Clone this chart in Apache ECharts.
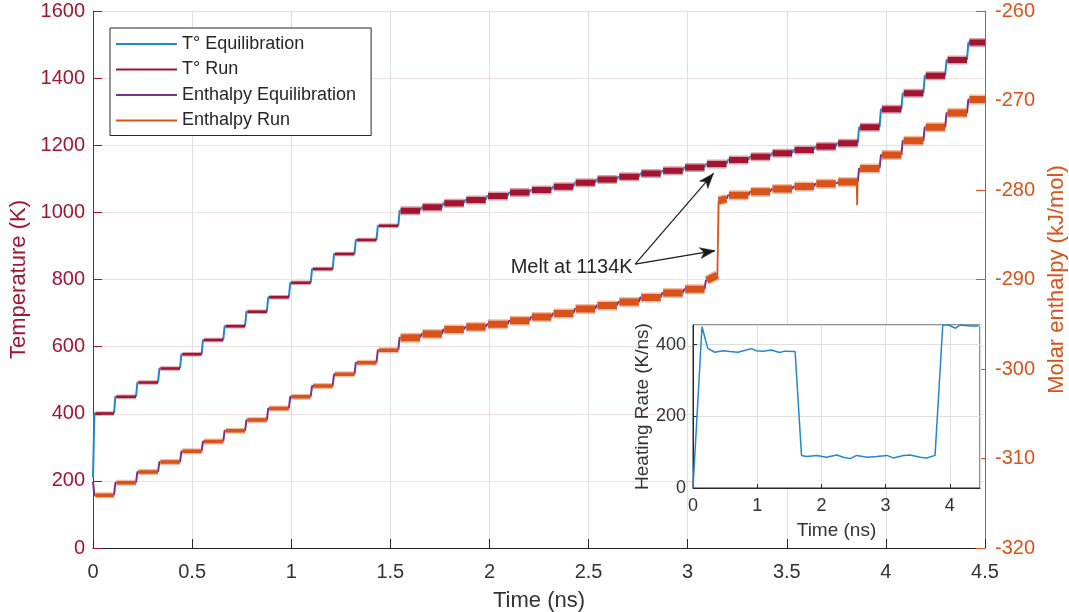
<!DOCTYPE html>
<html>
<head>
<meta charset="utf-8">
<script src="https://cdn.jsdelivr.net/npm/echarts@6/dist/echarts.min.js"></script>
<style>
  html, body { margin: 0; padding: 0; background: #ffffff; }
  #chart { width: 1069px; height: 612px; }
</style>
</head>
<body>
<div id="chart"></div>
<script>
// Start time (ns) of each heating step; the last plateau runs to simEnd
const stepStart = [0, 0.106, 0.217, 0.328, 0.439, 0.548, 0.657, 0.767, 0.877, 0.988,
  1.098, 1.209, 1.319, 1.430, 1.540, 1.650, 1.760, 1.871, 1.981, 2.092,
  2.202, 2.312, 2.423, 2.533, 2.643, 2.754, 2.864, 2.975, 3.085, 3.196,
  3.306, 3.416, 3.527, 3.637, 3.747, 3.858, 3.968, 4.078, 4.189, 4.299, 4.409];
const simEnd = 4.5;

// Plateau temperature (K) for each step
const tempLevel = [401, 451, 493, 535, 577, 620, 661, 704, 747, 790,
  831, 876, 918, 960, 1005, 1015, 1027, 1037, 1049, 1059,
  1067, 1076, 1088, 1098, 1106, 1116, 1124, 1134, 1144, 1156,
  1166, 1176, 1186, 1196, 1206, 1254, 1307, 1355, 1407, 1454, 1506];

// Plateau molar enthalpy (kJ/mol) for each step
const enthLevel = [-314.1, -312.7, -311.5, -310.4, -309.2, -308.1, -306.9, -305.7, -304.4, -303.1,
  -301.9, -300.6, -299.3, -297.9, -296.5, -296.1, -295.6, -295.3, -295.0, -294.6,
  -294.2, -293.8, -293.3, -292.9, -292.5, -292.0, -291.5, -291.1, -290.1, -280.6,
  -280.2, -279.9, -279.6, -279.3, -279.1, -277.6, -276.1, -274.5, -273.0, -271.4, -269.9];

// Values at t = 0, before the first equilibration
const tempInitial = 210;
const enthInitial = -312.6;

// Melting inside step 28: enthalpy jumps while the temperature keeps climbing
const meltStep = 28;
const meltBefore = [3.150, -289.5];
const meltAfter = [3.156, -281.2];
const meltLevelEnd = -281.0;
// Short enthalpy dip at the end of step 34
const dipStep = 34;
const dipPoint = [3.855, -281.7];

// Inset: heating rate (K/ns) against time (ns)
const rateTime = [0, 0.14, 0.23, 0.34, 0.47, 0.57, 0.70, 0.83, 0.91, 0.99,
  1.09, 1.22, 1.35, 1.43, 1.59, 1.69, 1.77, 1.93, 2.08, 2.24,
  2.34, 2.45, 2.55, 2.71, 2.86, 3.02, 3.12, 3.28, 3.38, 3.54,
  3.64, 3.77, 3.89, 3.98, 4.09, 4.16, 4.32, 4.45];
const rateValue = [0, 450, 390, 379, 383, 381, 379, 385, 389, 383,
  382, 385, 378, 382, 381, 91, 88, 91, 86, 92,
  86, 82, 91, 86, 88, 91, 84, 91, 92, 86,
  84, 91, 455, 455, 446, 455, 452, 452];

// Annotation anchor points, in (time, temperature) coordinates
const meltLabel = 'Melt at 1134K';
const meltLabelAt = [2.735, 837];
const arrowTail = [2.735, 846];
const arrowTips = [[3.130, 1116], [3.138, 886]];

// Timing of the equilibration phase at the start of every step (ns)
const equilRamp = 0.007;
const equilHold = 0.012;
// Steps before this index are drawn with the thinner run trace
const splitStep = 14;

const COLORS = {
  tEq: '#2386d0',
  tRun: '#A2142F',
  hEq: '#7E2F8E',
  hRun: '#D95319',
  axis: '#262626',
  text: '#333333'
};
const FONT = '"Liberation Sans", Arial, Helvetica, sans-serif';
const GAP = '-';

// Split each step into an equilibration ramp and a production run segment
function buildTraces(levels, initial, special) {
  const eq = [], runEarly = [], runLate = [], thin = [];
  let prev = initial;
  for (let k = 0; k < levels.length; k++) {
    const t0 = stepStart[k];
    const t1 = k + 1 < stepStart.length ? stepStart[k + 1] : simEnd;
    const L = levels[k];
    eq.push([t0, prev], [t0 + equilRamp, L], [t0 + equilHold, L], [t0 + equilHold, GAP]);
    const run = k < splitStep ? runEarly : runLate;
    run.push([t0 + equilHold, L]);
    prev = L;
    if (special && k === special.meltStep) {
      run.push(special.meltBefore, [special.meltBefore[0], GAP], special.meltAfter, [t1, special.meltLevelEnd]);
      thin.push(special.meltBefore, special.meltAfter, [special.meltAfter[0], GAP]);
      prev = special.meltLevelEnd;
    } else {
      run.push([t1, L]);
    }
    if (special && k === special.dipStep) {
      const d = special.dipPoint;
      thin.push([d[0] - 0.002, L], d, [d[0] + 0.002, L], [d[0] + 0.002, GAP]);
    }
    run.push([t1, GAP]);
  }
  return { eq, runEarly, runLate, thin };
}

const temp = buildTraces(tempLevel, tempInitial, null);
const enth = buildTraces(enthLevel, enthInitial, {
  meltStep: meltStep, meltBefore: meltBefore, meltAfter: meltAfter,
  meltLevelEnd: meltLevelEnd, dipStep: dipStep, dipPoint: dipPoint
});
const rateData = rateTime.map((t, i) => [t, rateValue[i]]);

function lineSeries(name, data, yIndex, color, width, opacity, extra) {
  return Object.assign({
    name: name,
    type: 'line',
    xAxisIndex: 0,
    yAxisIndex: yIndex,
    data: data,
    symbol: 'none',
    showSymbol: false,
    connectNulls: false,
    lineStyle: { color: color, width: width, opacity: opacity, cap: 'butt' },
    itemStyle: { color: color },
    emphasis: { disabled: true },
    z: 2
  }, extra || {});
}

const chart = echarts.init(document.getElementById('chart'), null, { renderer: 'canvas' });

const plainNumber = v => String(v);

chart.setOption({
  animation: false,
  backgroundColor: '#ffffff',
  textStyle: { fontFamily: FONT },
  grid: [
    { left: 93, right: 84, top: 11, bottom: 64, outerBoundsMode: 'none', containLabel: false },
    { left: 693, top: 325, width: 287, height: 163, show: true, backgroundColor: '#ffffff',
      borderColor: COLORS.axis, borderWidth: 1, z: 3, outerBoundsMode: 'none', containLabel: false }
  ],
  legend: {
    data: ['T° Equilibration', 'T° Run', 'Enthalpy Equilibration', 'Enthalpy Run'],
    orient: 'vertical',
    left: 110,
    top: 28,
    padding: [6, 15, 5, 6],
    itemGap: 5.5,
    itemWidth: 61,
    itemHeight: 2,
    icon: 'rect',
    backgroundColor: '#ffffff',
    borderColor: COLORS.axis,
    borderWidth: 1,
    selectedMode: false,
    itemStyle: { opacity: 1 },
    textStyle: { fontSize: 18, color: COLORS.axis, fontFamily: FONT, lineHeight: 20 }
  },
  xAxis: [
    {
      type: 'value', gridIndex: 0, min: 0, max: 4.5, interval: 0.5,
      axisLine: { show: true, lineStyle: { color: COLORS.axis, width: 1 } },
      axisTick: { show: true, inside: true, length: 9, lineStyle: { color: COLORS.axis } },
      axisLabel: { fontSize: 20, color: COLORS.text, margin: 14, fontFamily: FONT, formatter: plainNumber },
      splitLine: { show: true, lineStyle: { color: '#dedede', width: 1 } },
      name: 'Time (ns)', nameLocation: 'middle', nameGap: 42,
      nameTextStyle: { fontSize: 22, color: COLORS.text, fontFamily: FONT }
    },
    {
      type: 'value', gridIndex: 1, min: 0, max: 4.47, interval: 1, z: 4,
      axisLine: { show: true, lineStyle: { color: COLORS.axis, width: 1 } },
      axisTick: { show: true, inside: true, length: 4, lineStyle: { color: COLORS.axis } },
      axisLabel: { fontSize: 18, color: COLORS.text, margin: 9, showMaxLabel: false, fontFamily: FONT, formatter: plainNumber },
      splitLine: { show: true, lineStyle: { color: '#dedede', width: 1 } },
      name: 'Time (ns)', nameLocation: 'middle', nameGap: 33,
      nameTextStyle: { fontSize: 19, color: COLORS.text, fontFamily: FONT }
    }
  ],
  yAxis: [
    {
      type: 'value', gridIndex: 0, position: 'left', min: 0, max: 1600, interval: 200,
      axisLine: { show: true, lineStyle: { color: COLORS.tRun, width: 1 } },
      axisTick: { show: true, inside: true, length: 9, lineStyle: { color: COLORS.tRun } },
      axisLabel: { fontSize: 20, color: COLORS.tRun, margin: 8, fontFamily: FONT, formatter: plainNumber },
      splitLine: { show: true, lineStyle: { color: '#f1dce0', width: 1 } },
      name: 'Temperature (K)', nameLocation: 'middle', nameGap: 56, nameRotate: 90,
      nameTextStyle: { fontSize: 22, color: COLORS.tRun, fontFamily: FONT }
    },
    {
      type: 'value', gridIndex: 0, position: 'right', min: -320, max: -260, interval: 10,
      axisLine: { show: true, lineStyle: { color: COLORS.hRun, width: 1 } },
      axisTick: { show: true, inside: true, length: 9, lineStyle: { color: COLORS.hRun } },
      axisLabel: { fontSize: 20, color: COLORS.hRun, margin: 10, fontFamily: FONT, formatter: plainNumber },
      splitLine: { show: false },
      name: 'Molar enthalpy (kJ/mol)', nameLocation: 'middle', nameGap: 58, nameRotate: 90,
      nameTextStyle: { fontSize: 22, color: COLORS.hRun, fontFamily: FONT }
    },
    {
      type: 'value', gridIndex: 1, min: 0, max: 455, interval: 200, z: 4,
      axisLine: { show: true, lineStyle: { color: COLORS.axis, width: 1 } },
      axisTick: { show: true, inside: true, length: 4, lineStyle: { color: COLORS.axis } },
      axisLabel: { fontSize: 18, color: COLORS.text, margin: 7, showMaxLabel: false, fontFamily: FONT, formatter: plainNumber },
      splitLine: { show: true, lineStyle: { color: '#dedede', width: 1 } },
      name: 'Heating Rate (K/ns)', nameLocation: 'middle', nameGap: 40, nameRotate: 90,
      nameTextStyle: { fontSize: 19, color: COLORS.text, fontFamily: FONT }
    }
  ],
  series: [
    lineSeries('T° Equilibration', temp.eq, 0, COLORS.tEq, 2, 1),
    lineSeries('T° Run', temp.runEarly, 0, COLORS.tRun, 2.5, 1),
    lineSeries('T° Run', temp.runEarly, 0, COLORS.tRun, 4.5, 0.4),
    lineSeries('T° Run', temp.runLate, 0, COLORS.tRun, 6, 1, {
      markLine: {
        silent: true,
        animation: false,
        symbol: ['none', 'none'],
        lineStyle: { color: '#1a1a1a', width: 1.2, type: 'solid' },
        label: { show: false },
        emphasis: { disabled: true },
        data: arrowTips.map(tip => [{ coord: arrowTail }, { coord: tip }])
      },
      markPoint: {
        silent: true,
        animation: false,
        symbol: 'circle',
        symbolSize: 1,
        itemStyle: { color: 'rgba(0,0,0,0)' },
        label: {
          show: true, position: 'left', distance: 2,
          formatter: meltLabel, fontSize: 20, color: COLORS.axis, fontFamily: FONT
        },
        data: [{ coord: meltLabelAt }]
      }
    }),
    lineSeries('T° Run', temp.runLate, 0, COLORS.tRun, 9, 0.4),
    lineSeries('Enthalpy Equilibration', enth.eq, 1, COLORS.hEq, 2, 1),
    lineSeries('Enthalpy Run', enth.runEarly, 1, COLORS.hRun, 3.5, 1),
    lineSeries('Enthalpy Run', enth.runEarly, 1, COLORS.hRun, 6, 0.4),
    lineSeries('Enthalpy Run', enth.runLate, 1, COLORS.hRun, 7, 1),
    lineSeries('Enthalpy Run', enth.runLate, 1, COLORS.hRun, 10, 0.4),
    lineSeries('Enthalpy Run', enth.thin, 1, COLORS.hRun, 1.8, 1),
    {
      name: 'Heating Rate',
      type: 'line',
      xAxisIndex: 1,
      yAxisIndex: 2,
      data: rateData,
      symbol: 'none',
      showSymbol: false,
      clip: true,
      lineStyle: { color: COLORS.tEq, width: 1.5 },
      itemStyle: { color: COLORS.tEq },
      emphasis: { disabled: true },
      z: 5
    }
  ]
});

// Arrowheads for the annotation, placed at the arrow tips in data coordinates
function arrowHead(from, to) {
  const finder = { xAxisIndex: 0, yAxisIndex: 0 };
  const p0 = chart.convertToPixel(finder, from);
  const p1 = chart.convertToPixel(finder, to);
  const ang = Math.atan2(p1[1] - p0[1], p1[0] - p0[0]);
  const len = 15, half = 5.5, notch = 4;
  const local = [[0, 0], [-len, -half], [-len + notch, 0], [-len, half]];
  const c = Math.cos(ang), s = Math.sin(ang);
  const pts = local.map(([x, y]) => [p1[0] + x * c - y * s, p1[1] + x * s + y * c]);
  return {
    type: 'polygon',
    shape: { points: pts },
    style: { fill: '#1a1a1a', stroke: '#1a1a1a', lineWidth: 0.5 },
    silent: true,
    z: 6
  };
}

chart.setOption({ graphic: arrowTips.map(tip => arrowHead(arrowTail, tip)) });
</script>
</body>
</html>
